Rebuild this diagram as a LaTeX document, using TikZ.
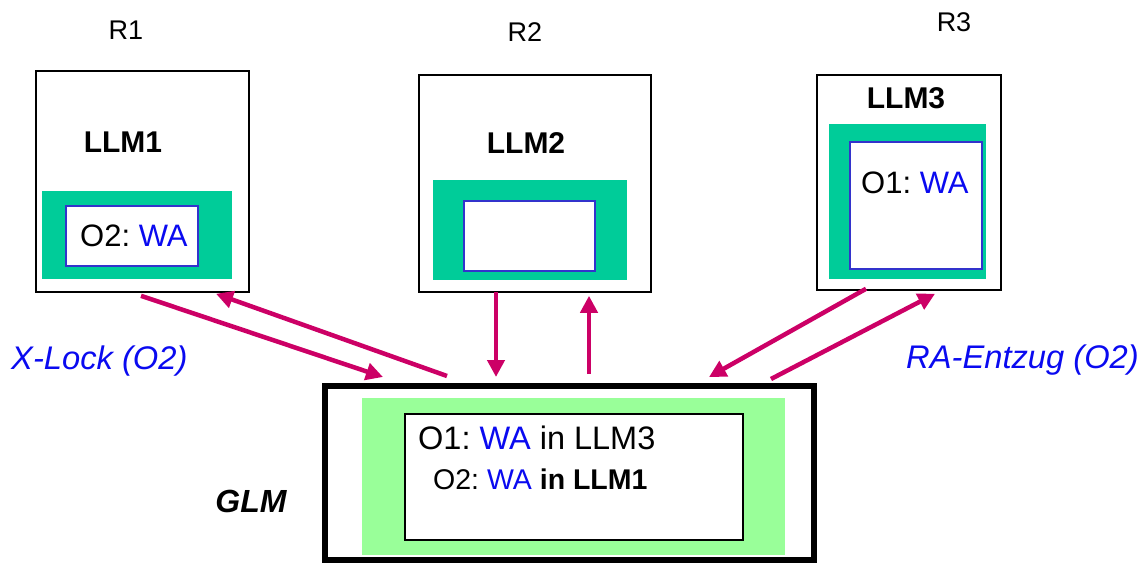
\documentclass[tikz,border=0pt]{standalone}
\usepackage{fontspec}
\setmainfont{Liberation Sans}
\usetikzlibrary{calc,arrows.meta}
\definecolor{llmgreen}{HTML}{00CC99}
\definecolor{glmgreen}{HTML}{99FF99}
\definecolor{wablue}{HTML}{0A0AF0}
\definecolor{frameblue}{HTML}{3333CC}
\definecolor{msgred}{HTML}{CC0066}
\frenchspacing
\begin{document}
\begin{tikzpicture}[x=1pt,y=-1pt,
  box/.style={draw=black,line width=1.6pt,fill=white,inner sep=0pt},
  area/.style={fill=llmgreen,draw=none,inner sep=0pt},
  entry/.style={draw=frameblue,line width=1.6pt,fill=white,inner sep=0pt},
  lbl/.style={inner sep=0pt,font=\fontsize{27}{30}\selectfont},
  llmname/.style={inner sep=0pt,font=\fontsize{30}{34}\selectfont\bfseries},
  txt/.style={inner sep=0pt,font=\fontsize{31}{34}\selectfont},
  msg/.style={inner sep=0pt,text=wablue,font=\fontsize{32.7}{36}\selectfont\itshape},
  arr/.style={draw=msgred,line width=4.5pt,-{Triangle[length=17pt,width=17pt]}},
  wh/.style={minimum width=#1},
  ht/.style={minimum height=#1}]
\useasboundingbox (0,0) rectangle (1148,564);

% local lock managers
\node[box,wh=213,ht=221] (r1) at (142.5,181.5) {};
\node[area,wh=190,ht=88] (g1) at (137,235) {};
\node[entry,wh=132,ht=60] (i1) at (132,236) {};

\node[box,wh=232,ht=217] (r2) at (535,183.5) {};
\node[area,wh=194,ht=100] (g2) at (530,230) {};
\node[entry,wh=131,ht=70] (i2) at (529.5,236) {};

\node[box,wh=184,ht=215] (r3) at (909,182.5) {};
\node[area,wh=157,ht=155] (g3) at (907.5,201.5) {};
\node[entry,wh=132,ht=127] (i3) at (916,205.5) {};

% global lock manager
\node[draw=black,line width=6pt,fill=white,inner sep=0pt,wh=489,ht=174] (glm) at (569.5,473) {};
\node[fill=glmgreen,inner sep=0pt,wh=423,ht=157] (gg) at (573.5,476.5) {};
\node[draw=black,line width=2pt,fill=white,inner sep=0pt,wh=338,ht=126] (gi) at (574,477) {};

% labels
\node[lbl,anchor=base] (t1) at (126,40) {R1};
\node[lbl,anchor=base] (t2) at (525,41.5) {R2};
\node[lbl,anchor=base] (t3) at (954,31.5) {R3};
\node[llmname,anchor=base] (n1) at (123,153) {LLM1};
\node[llmname,anchor=base] (n2) at (526,154) {LLM2};
\node[llmname,anchor=base] (n3) at (906,109) {LLM3};
\node[txt,anchor=base west] (e1) at (80,246) {O2: \textcolor{wablue}{WA}};
\node[txt,anchor=base west] (e3) at (861,194) {O1: \textcolor{wablue}{WA}};
\node[txt,anchor=base west,font=\fontsize{32.5}{36}\selectfont] (ge1) at (418,449) {O1: \textcolor{wablue}{WA} in LLM3};
\node[txt,anchor=base west,font=\fontsize{28.5}{32}\selectfont] (ge2) at (433,489) {O2: \textcolor{wablue}{WA} \textbf{in LLM1}};
\node[inner sep=0pt,anchor=base,font=\fontsize{32}{34}\selectfont\bfseries\itshape] (gn) at (251,512) {GLM};
\node[msg,anchor=base west] (m1) at (11,369) {X-Lock (O2)};
\node[msg,anchor=base west] (m2) at (906,368) {RA-Entzug (O2)};

% messages
\draw[arr] ($(r1.south)+(-1.5,3)$) -- ($(glm.north)+(-186.5,-6)$);
\draw[arr] ($(glm.north)+(-122.5,-7)$) -- ($(r1.south)+(73.5,1)$);
\draw[arr] ($(r2.south)+(-39,-1)$) -- ($(glm.north)+(-73.5,-6)$);
\draw[arr] ($(glm.north)+(19.5,-9)$) -- ($(r2.south)+(54,3)$);
\draw[arr] ($(r3.south)+(-43,-2)$) -- ($(glm.north)+(139.5,-6)$);
\draw[arr] ($(glm.north)+(201.5,-4)$) -- ($(r3.south)+(26,3)$);
\end{tikzpicture}
\end{document}
